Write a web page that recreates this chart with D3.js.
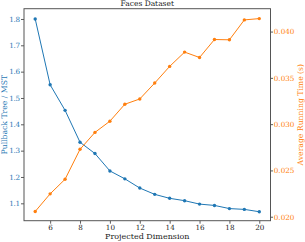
<!DOCTYPE html>
<html><head><meta charset="utf-8">
<script src="https://cdn.jsdelivr.net/npm/d3@7"></script>
<style>body{margin:0;background:#fff}svg{display:block}text{font-family:"DejaVu Serif",serif}</style>
</head><body><svg id="c" width="305" height="242"></svg>
<script>
const dims = [5,6,7,8,9,10,11,12,13,14,15,16,17,18,19,20];
const ratio = [1.800,1.550,1.453,1.332,1.289,1.223,1.193,1.158,1.134,1.119,1.110,1.097,1.092,1.080,1.077,1.068];
const runtime = [0.02057,0.02247,0.02405,0.02728,0.02911,0.03032,0.03215,0.03272,0.03444,0.03624,0.03778,0.03720,0.03914,0.03911,0.04126,0.04140];
const xTicks = [6,8,10,12,14,16,18,20];
const yLeftTicks = [1.1,1.2,1.3,1.4,1.5,1.6,1.7,1.8];
const yRightTicks = [0.020,0.025,0.030,0.035,0.040];
const title = "Faces Dataset", xLabel = "Projected Dimension", yLeftLabel = "Pullback Tree / MST", yRightLabel = "Average Running Time (s)";

const blue = "#1f77b4", orange = "#ff7f0e";
const L = 24, R = 270.5, T = 8.7, B = 220.7;
const svg = d3.select("#c");
const x = d3.scaleLinear().domain([4.25,20.75]).range([L,R]);
const yl = d3.scaleLinear().domain([1.034,1.839]).range([B,T]);
const yr = d3.scaleLinear().domain([0.01957,0.04247]).range([B,T]);
const fs = 7.5, tfs = 7.2;

const ax = svg.append("g").attr("transform",`translate(0,${B})`).call(d3.axisBottom(x).tickValues(xTicks).tickFormat(d3.format("d")).tickSize(3).tickPadding(1.5));
ax.selectAll("text").attr("font-size",tfs).attr("fill","#222");
const al = svg.append("g").attr("transform",`translate(${L},0)`).call(d3.axisLeft(yl).tickValues(yLeftTicks).tickFormat(d3.format(".1f")).tickSize(3).tickPadding(1.2));
al.selectAll("text").attr("font-size",tfs).attr("letter-spacing",-0.3).attr("fill",blue);
const ar = svg.append("g").attr("transform",`translate(${R},0)`).call(d3.axisRight(yr).tickValues(yRightTicks).tickFormat(d3.format(".3f")).tickSize(2.5).tickPadding(0.8));
ar.selectAll("text").attr("font-size",tfs).attr("fill",orange);
svg.selectAll(".domain").remove();
svg.selectAll(".tick line").attr("stroke","#333").attr("stroke-width",0.8);
svg.append("rect").attr("x",L).attr("y",T).attr("width",R-L).attr("height",B-T).attr("fill","none").attr("stroke","#555").attr("stroke-width",1);

function series(vals, ys, col){
  svg.append("path").datum(vals).attr("fill","none").attr("stroke",col).attr("stroke-width",1)
    .attr("d", d3.line().x((d,i)=>x(dims[i])).y(d=>ys(d)));
  svg.append("g").selectAll("circle").data(vals).join("circle")
    .attr("cx",(d,i)=>x(dims[i])).attr("cy",d=>ys(d)).attr("r",1.7).attr("fill",col);
}
series(ratio, yl, blue);
series(runtime, yr, orange);

svg.append("text").attr("x",(L+R)/2).attr("y",6.3).attr("text-anchor","middle").attr("font-size",fs).attr("fill","#222").text(title);
svg.append("text").attr("x",(L+R)/2).attr("y",238.5).attr("text-anchor","middle").attr("font-size",fs+0.5).attr("fill","#222").text(xLabel);
svg.append("text").attr("transform",`translate(7.2,${(T+B)/2}) rotate(-90)`).attr("text-anchor","middle").attr("font-size",fs+0.2).attr("fill",blue).text(yLeftLabel);
svg.append("text").attr("transform",`translate(302.5,${(T+B)/2}) rotate(-90)`).attr("text-anchor","middle").attr("font-size",fs+0.2).attr("fill",orange).text(yRightLabel);
</script></body></html>
